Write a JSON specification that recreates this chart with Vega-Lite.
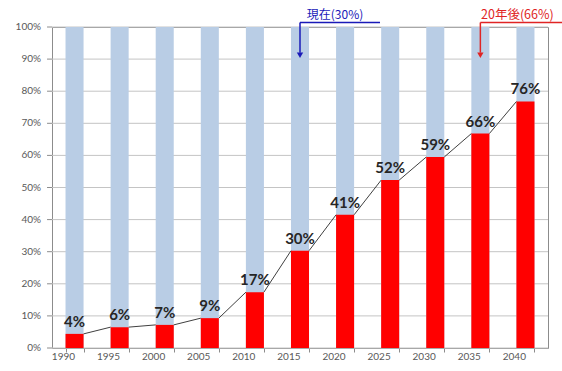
{
  "$schema": "https://vega.github.io/schema/vega-lite/v6.json",
  "width": 496,
  "height": 321,
  "autosize": {"type": "none"},
  "padding": {"left": 52, "top": 27, "right": 14, "bottom": 23},
  "background": "white",
  "config": {
    "view": {"stroke": "#8c8c8c", "strokeWidth": 1},
    "font": "Lato",
    "axis": {"labelFont": "Lato", "labelFontSize": 10, "labelColor": "#595959", "tickColor": "#8c8c8c", "domain": false, "title": null}
  },
  "datasets": {
    "bars": [
      {"year": "1990", "share": 0.044, "label": "4%"},
      {"year": "1995", "share": 0.065, "label": "6%"},
      {"year": "2000", "share": 0.072, "label": "7%"},
      {"year": "2005", "share": 0.093, "label": "9%"},
      {"year": "2010", "share": 0.174, "label": "17%"},
      {"year": "2015", "share": 0.303, "label": "30%"},
      {"year": "2020", "share": 0.415, "label": "41%"},
      {"year": "2025", "share": 0.523, "label": "52%"},
      {"year": "2030", "share": 0.595, "label": "59%"},
      {"year": "2035", "share": 0.668, "label": "66%"},
      {"year": "2040", "share": 0.768, "label": "76%"}
    ],
    "yticks": [
      {"v": 0}, {"v": 0.1}, {"v": 0.2}, {"v": 0.3}, {"v": 0.4}, {"v": 0.5},
      {"v": 0.6}, {"v": 0.7}, {"v": 0.8}, {"v": 0.9}, {"v": 1}
    ]
  },
  "layer": [
    {
      "data": {"name": "yticks"},
      "mark": {"type": "rule", "color": "#c4c4c4", "strokeWidth": 1},
      "encoding": {
        "y": {"field": "v", "type": "quantitative", "scale": {"domain": [0, 1], "nice": false}, "axis": null}
      }
    },
    {
      "data": {"name": "yticks"},
      "mark": {"type": "rule", "color": "#8c8c8c", "strokeWidth": 1, "xOffset": -27.5, "x2Offset": -22.5},
      "encoding": {
        "x": {"datum": "1990", "type": "ordinal", "scale": {"type": "band", "domain": ["1990", "1995", "2000", "2005", "2010", "2015", "2020", "2025", "2030", "2035", "2040"], "paddingInner": 0.6, "paddingOuter": 0.3}},
        "x2": {"datum": "1990"},
        "y": {"field": "v", "type": "quantitative"}
      }
    },
    {
      "data": {"name": "yticks"},
      "mark": {"type": "text", "font": "Lato", "fontSize": 10, "color": "#595959", "align": "right", "baseline": "middle", "dx": -33.5},
      "encoding": {
        "x": {"datum": "1990", "type": "ordinal", "scale": {"type": "band"}},
        "y": {"field": "v", "type": "quantitative"},
        "text": {"field": "v", "type": "quantitative", "format": ".0%"}
      }
    },
    {
      "data": {"name": "bars"},
      "encoding": {
        "x": {
          "field": "year",
          "type": "ordinal",
          "scale": {"type": "band", "domain": ["1990", "1995", "2000", "2005", "2010", "2015", "2020", "2025", "2030", "2035", "2040"], "paddingInner": 0.6, "paddingOuter": 0.3},
          "axis": {"labelAngle": 0, "tickBand": "extent", "tickSize": 4, "labelPadding": 4, "grid": false}
        }
      },
      "layer": [
        {
          "mark": {"type": "bar", "color": "#b9cde5"},
          "encoding": {"y": {"datum": 1, "type": "quantitative", "axis": null}}
        },
        {
          "transform": [
            {"window": [{"op": "lead", "field": "year", "as": "nextYear"}, {"op": "lead", "field": "share", "as": "nextShare"}], "sort": [{"field": "year"}]},
            {"filter": "datum.nextYear != null"}
          ],
          "mark": {"type": "rule", "color": "#404040", "strokeWidth": 1, "xOffset": 9, "x2Offset": -9},
          "encoding": {
            "x2": {"field": "nextYear"},
            "y": {"field": "share", "type": "quantitative", "axis": null},
            "y2": {"field": "nextShare"}
          }
        },
        {
          "mark": {"type": "bar", "color": "#ff0000"},
          "encoding": {"y": {"field": "share", "type": "quantitative", "axis": null}}
        },
        {
          "mark": {"type": "text", "fontSize": 15, "fontWeight": "bold", "color": "#262626", "baseline": "alphabetic", "dy": -7},
          "encoding": {
            "y": {"field": "share", "type": "quantitative", "axis": null},
            "text": {"field": "label"}
          }
        }
      ]
    },
    {
      "data": {"values": [{"year": "2015", "note": "現在(30%)"}]},
      "encoding": {"x": {"field": "year", "type": "ordinal"}},
      "layer": [
        {"mark": {"type": "text", "font": "Noto Sans CJK JP", "fontSize": 12, "color": "#1a1ab8", "dx": 35, "baseline": "middle"},
         "encoding": {"y": {"datum": 1.0375, "type": "quantitative", "axis": null}, "text": {"field": "note"}}},
        {"mark": {"type": "rule", "color": "#1a1ab8", "strokeWidth": 1.5, "x2Offset": 80},
         "encoding": {"x2": {"field": "year"}, "y": {"datum": 1.014, "type": "quantitative", "axis": null}}},
        {"mark": {"type": "rule", "color": "#1a1ab8", "strokeWidth": 1.5},
         "encoding": {"y": {"datum": 1.014, "type": "quantitative", "axis": null}, "y2": {"datum": 0.92}}},
        {"mark": {"type": "point", "shape": "triangle-down", "filled": true, "opacity": 1, "size": 40, "color": "#1a1ab8"},
         "encoding": {"y": {"datum": 0.912, "type": "quantitative", "axis": null}}}
      ]
    },
    {
      "data": {"values": [{"year": "2035", "note": "20年後(66%)"}]},
      "encoding": {"x": {"field": "year", "type": "ordinal"}},
      "layer": [
        {"mark": {"type": "text", "font": "Noto Sans CJK JP", "fontSize": 12.5, "color": "#e02424", "dx": 37, "baseline": "middle"},
         "encoding": {"y": {"datum": 1.0375, "type": "quantitative", "axis": null}, "text": {"field": "note"}}},
        {"mark": {"type": "rule", "color": "#e02424", "strokeWidth": 1.5, "x2Offset": 90},
         "encoding": {"x2": {"field": "year"}, "y": {"datum": 1.014, "type": "quantitative", "axis": null}}},
        {"mark": {"type": "rule", "color": "#e02424", "strokeWidth": 1.5},
         "encoding": {"y": {"datum": 1.014, "type": "quantitative", "axis": null}, "y2": {"datum": 0.92}}},
        {"mark": {"type": "point", "shape": "triangle-down", "filled": true, "opacity": 1, "size": 40, "color": "#e02424"},
         "encoding": {"y": {"datum": 0.912, "type": "quantitative", "axis": null}}}
      ]
    }
  ]
}
